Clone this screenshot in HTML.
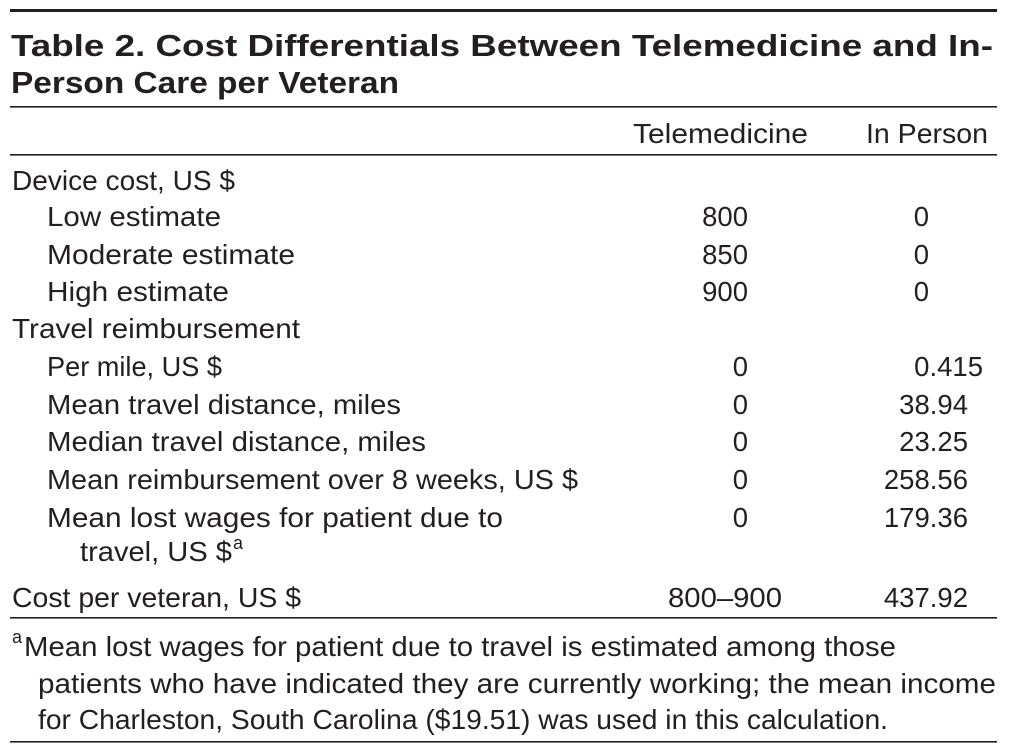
<!DOCTYPE html>
<html><head><meta charset="utf-8"><style>
html,body{margin:0;padding:0;background:#fff;}
svg{display:block;}
text{font-family:"Liberation Sans",sans-serif;fill:#231f20;font-size:27.5px;}
.b{font-weight:bold;font-size:31px;}
</style></head><body>
<svg width="1010" height="753" viewBox="0 0 1010 753">
<rect x="10" y="9" width="987" height="3" fill="#231f20"/>
<text class="b" x="11" y="56" textLength="982" lengthAdjust="spacingAndGlyphs">Table 2. Cost Differentials Between Telemedicine and In-</text>
<text class="b" x="11" y="93" textLength="388" lengthAdjust="spacingAndGlyphs">Person Care per Veteran</text>
<rect x="10" y="106" width="987" height="1.6" fill="#231f20"/>
<text x="633" y="143" textLength="175" lengthAdjust="spacingAndGlyphs">Telemedicine</text>
<text x="866" y="143" textLength="122" lengthAdjust="spacingAndGlyphs">In Person</text>
<rect x="10" y="154" width="987" height="1.6" fill="#231f20"/>

<g>
<text x="12" y="190" textLength="223" lengthAdjust="spacingAndGlyphs">Device cost, US $</text>
<text x="47" y="226" textLength="174" lengthAdjust="spacingAndGlyphs">Low estimate</text>
<text x="47" y="264" textLength="248" lengthAdjust="spacingAndGlyphs">Moderate estimate</text>
<text x="47" y="301" textLength="182" lengthAdjust="spacingAndGlyphs">High estimate</text>
<text x="12" y="338" textLength="288" lengthAdjust="spacingAndGlyphs">Travel reimbursement</text>
<text x="47" y="376" textLength="175" lengthAdjust="spacingAndGlyphs">Per mile, US $</text>
<text x="47" y="414" textLength="354" lengthAdjust="spacingAndGlyphs">Mean travel distance, miles</text>
<text x="47" y="451" textLength="379" lengthAdjust="spacingAndGlyphs">Median travel distance, miles</text>
<text x="47" y="489" textLength="531" lengthAdjust="spacingAndGlyphs">Mean reimbursement over 8 weeks, US $</text>
<text x="47" y="527" textLength="456" lengthAdjust="spacingAndGlyphs">Mean lost wages for patient due to</text>
<text x="80" y="561" textLength="152" lengthAdjust="spacingAndGlyphs">travel, US $</text>
<text x="233" y="549" style="font-size:18px">a</text>
<text x="12" y="607" textLength="289" lengthAdjust="spacingAndGlyphs">Cost per veteran, US $</text>
</g>

<g text-anchor="end">
<text x="748" y="226">800</text>
<text x="748" y="264">850</text>
<text x="748" y="301">900</text>
<text x="748" y="376">0</text>
<text x="748" y="414">0</text>
<text x="748" y="451">0</text>
<text x="748" y="489">0</text>
<text x="748" y="527">0</text>
<text x="782" y="607" textLength="114" lengthAdjust="spacingAndGlyphs">800–900</text>
</g>
<g text-anchor="end">
<text x="929" y="226">0</text>
<text x="929" y="264">0</text>
<text x="929" y="301">0</text>
<text x="983" y="376">0.415</text>
<text x="968" y="414">38.94</text>
<text x="968" y="451">23.25</text>
<text x="968" y="489">258.56</text>
<text x="968" y="527">179.36</text>
<text x="968" y="607">437.92</text>
</g>
<rect x="10" y="617" width="987" height="1.6" fill="#231f20"/>
<g>
<text x="12" y="643" style="font-size:18px">a</text>
<text x="24" y="656" textLength="872" lengthAdjust="spacingAndGlyphs">Mean lost wages for patient due to travel is estimated among those</text>
<text x="38" y="693" textLength="958" lengthAdjust="spacingAndGlyphs">patients who have indicated they are currently working; the mean income</text>
<text x="38" y="729" textLength="850" lengthAdjust="spacingAndGlyphs">for Charleston, South Carolina ($19.51) was used in this calculation.</text>
</g>
<rect x="10" y="741" width="987" height="1.6" fill="#231f20"/>
</svg>
</body></html>
